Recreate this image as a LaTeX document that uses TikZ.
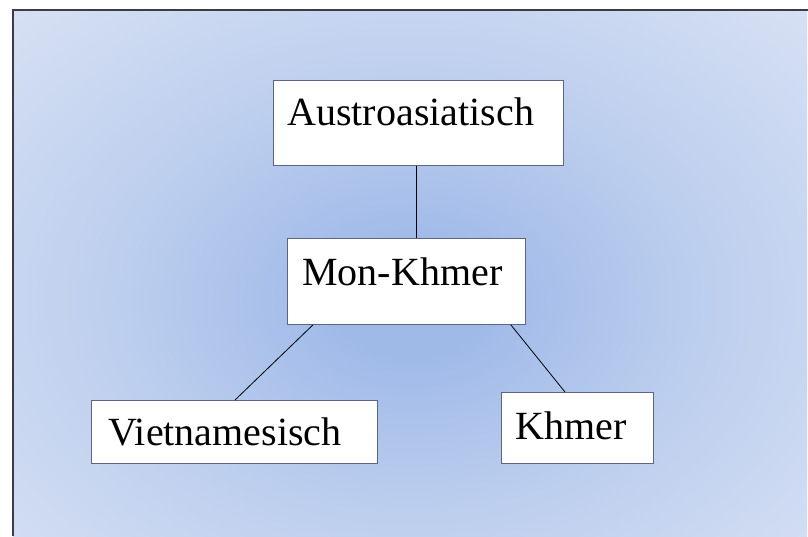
\documentclass[tikz,border=0pt]{standalone}
\usepackage{fontspec}
\setmainfont{Liberation Serif}
\definecolor{glowc}{HTML}{A0BAE8}
\definecolor{glowm}{HTML}{BCCEEE}
\definecolor{glowe}{HTML}{D6E0F3}
\definecolor{glowk}{HTML}{E2E8F5}
\definecolor{framec}{HTML}{3A3D45}
\definecolor{boxc}{HTML}{5C6680}
\pgfdeclareradialshading{bgglow}{\pgfpointorigin}{%
  color(0bp)=(glowc); color(5bp)=(glowc); color(18bp)=(glowm);
  color(35bp)=(glowe); color(50bp)=(glowk)}
\tikzset{
  langbox/.style={draw=boxc, fill=white, line width=0.8pt, anchor=north west,
    align=left, inner ysep=0pt, font=\fontsize{40}{40}\selectfont},
  link/.style={draw=black, line width=0.8pt}
}
\begin{document}
\begin{tikzpicture}[x=1pt,y=-1pt]
\useasboundingbox (0,0) rectangle (808,536);
\fill[white] (0,0) rectangle (808,536);
% soft blue backdrop inside the frame
\begin{scope}
  \clip (13,10) rectangle (808,536);
  \shade[shading=bgglow] (13,10) rectangle (807,590);
\end{scope}
\draw[framec, line width=1.5pt] (13,536) -- (13,10) -- (808,10);

% language boxes
\node[langbox, inner xsep=14pt, text width=262pt, text height=45pt, text depth=40pt]
  (aa) at (273,80) {Austroasiatisch};
\node[langbox, inner xsep=15pt, text width=208pt, text height=47pt, text depth=39pt]
  (mk) at (287,238) {Mon-Khmer};
\node[langbox, inner xsep=17pt, text width=252pt, text height=45pt, text depth=18pt]
  (vi) at (91,400) {Vietnamesisch};
\node[langbox, inner xsep=14pt, text width=124pt, text height=47pt, text depth=24pt]
  (kh) at (501,392) {Khmer};

% family links
\draw[link] ([xshift=-2pt]aa.south) -- ([xshift=-2pt]aa.south |- mk.north);
\draw[link] ([xshift=26pt]mk.south west) -- ([xshift=144pt]vi.north west);
\draw[link] ([xshift=-15pt]mk.south east) -- ([xshift=64pt]kh.north west);
\end{tikzpicture}
\end{document}
